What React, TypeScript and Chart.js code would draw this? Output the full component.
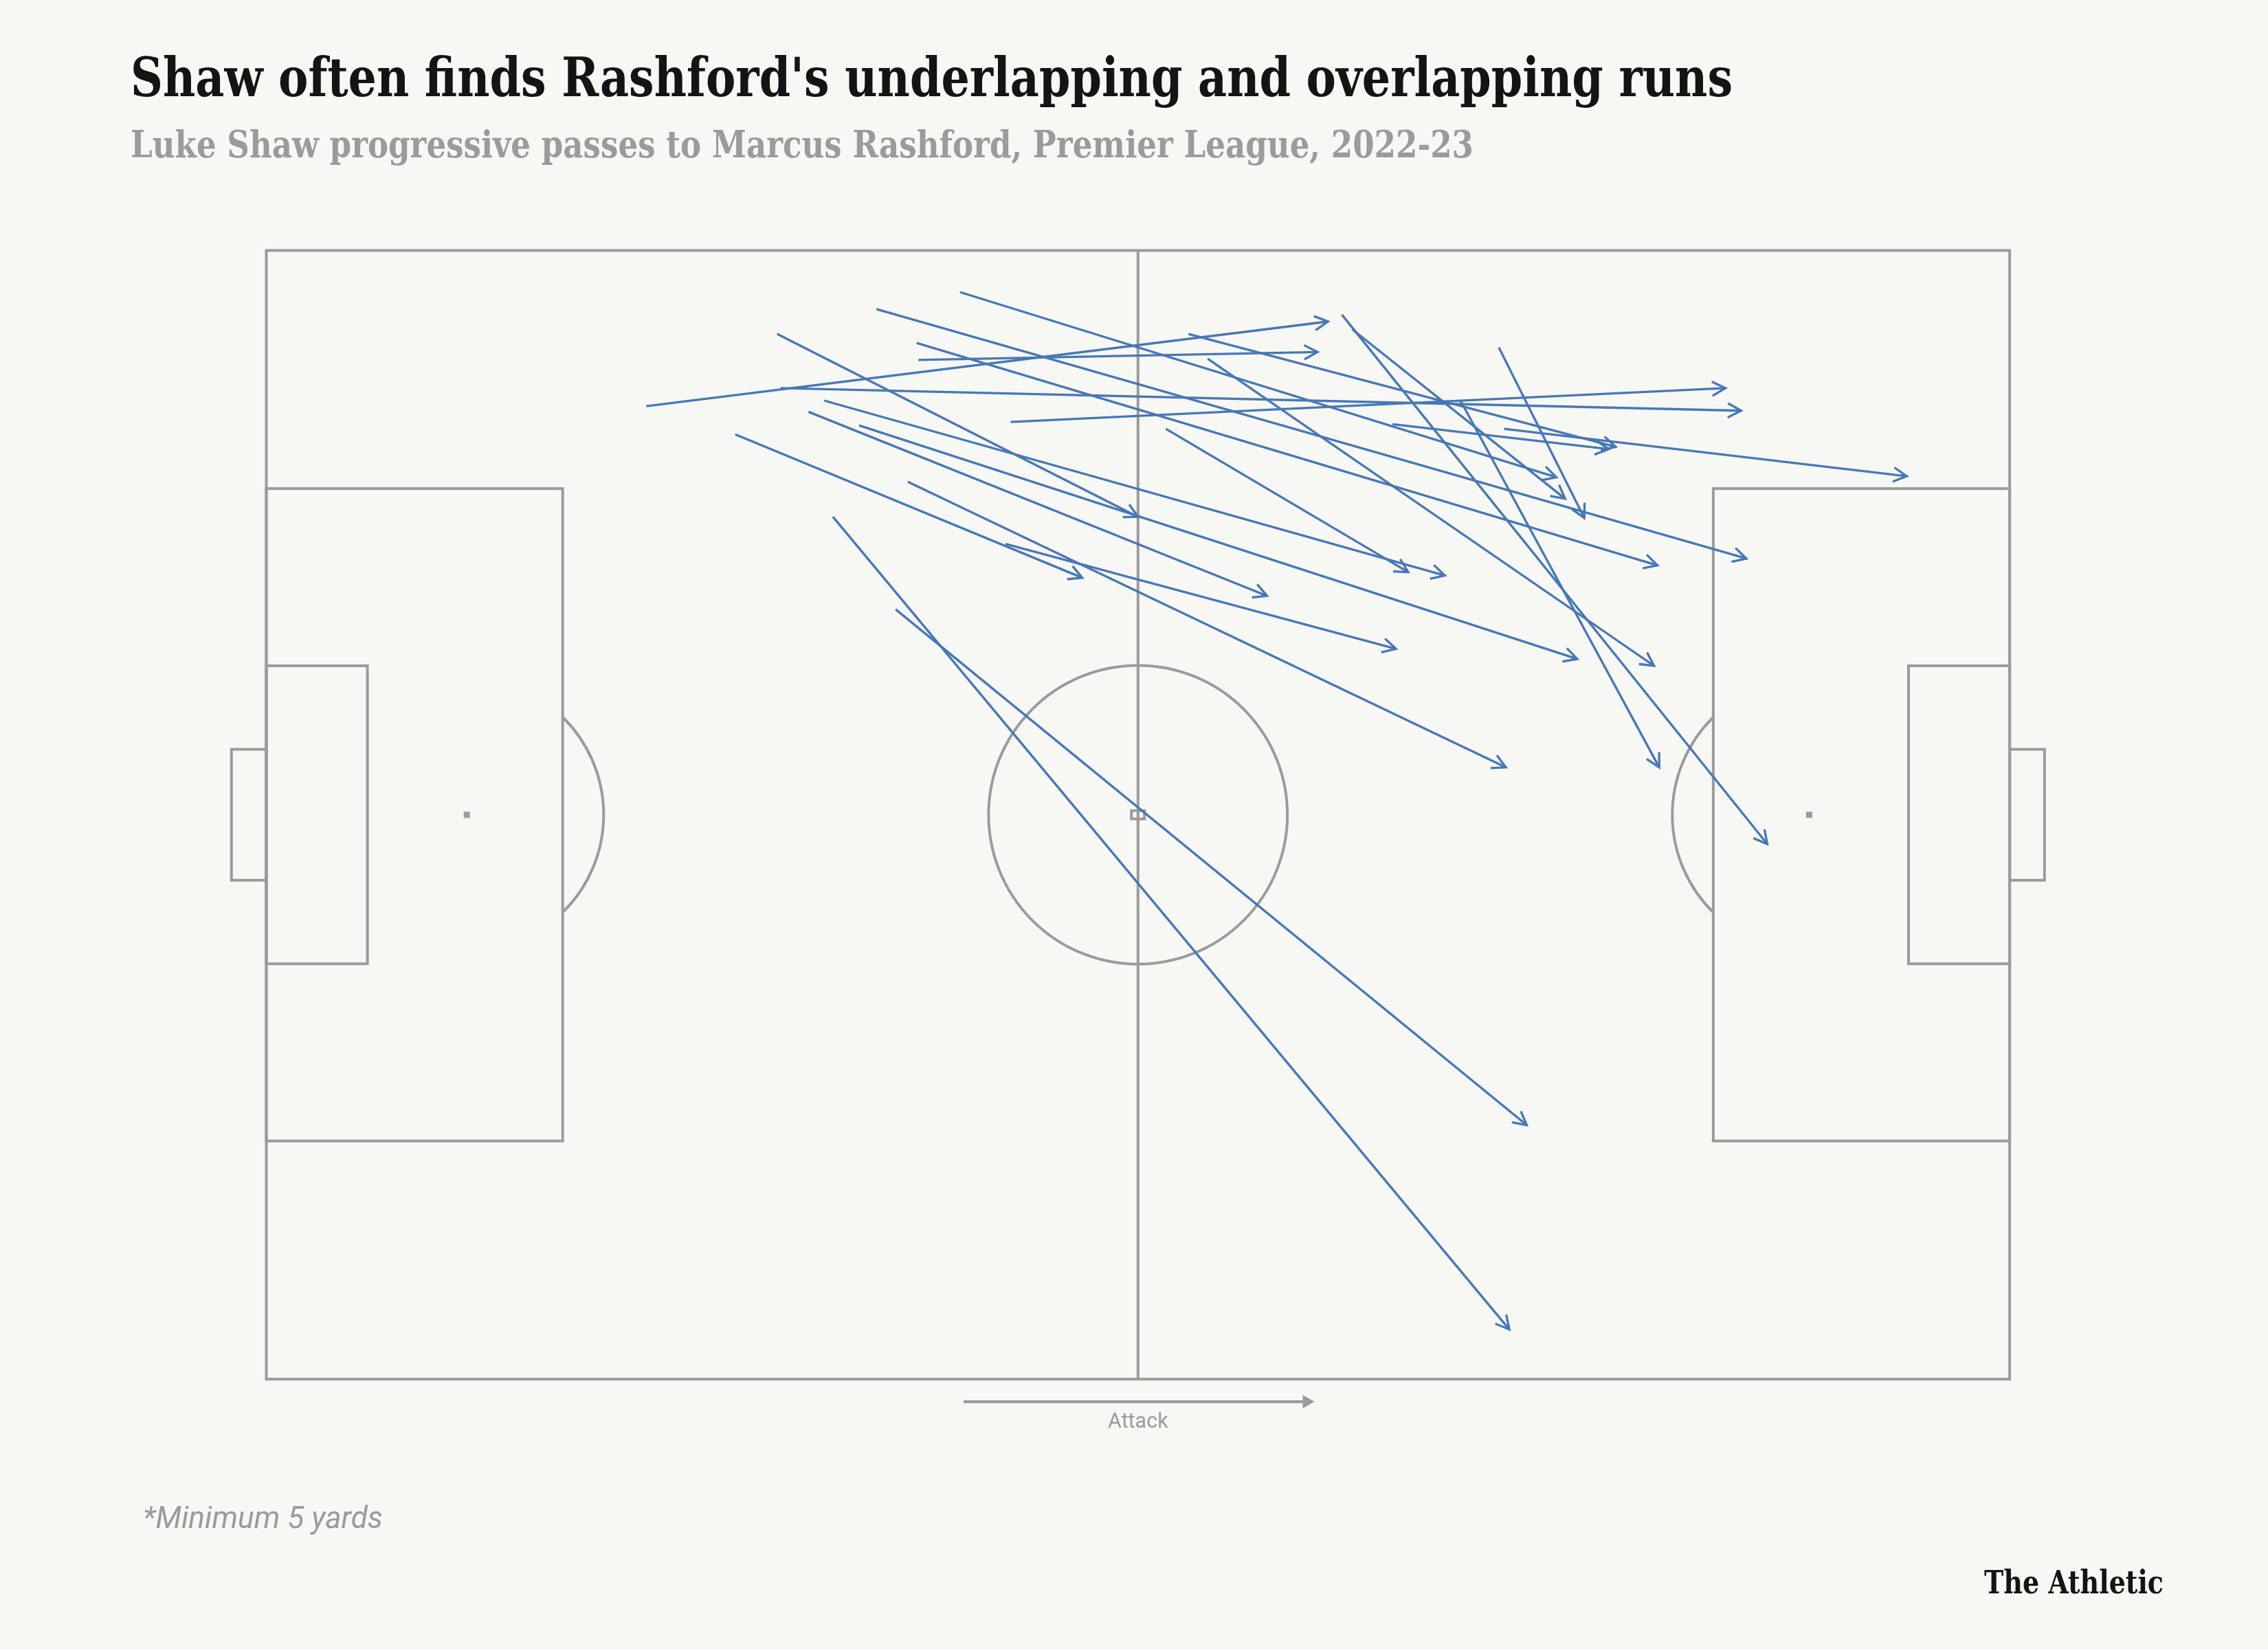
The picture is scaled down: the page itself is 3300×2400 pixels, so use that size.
import React, { useEffect, useLayoutEffect, useRef } from "react";
import { Chart, registerables } from "chart.js";

Chart.register(...registerables);

// ---- Data (Opta pitch coordinates, 0-100; x = attacking direction, y = 0 at bottom touchline) ----
const passStartX = [21.8, 37.4, 29.5, 42.7, 39.8, 35.0, 37.3, 29.3, 52.9, 64.6, 71.0, 54.0, 51.6, 32.0, 31.1, 34.0, 26.9, 36.8, 42.4, 32.5, 36.1, 70.7, 62.3, 68.5, 61.7];
const passStartY = [86.2, 90.3, 87.8, 84.8, 96.3, 94.8, 91.8, 92.6, 92.6, 84.6, 84.2, 90.4, 84.2, 86.7, 85.7, 84.5, 83.7, 79.5, 74.0, 76.4, 68.2, 91.4, 93.0, 86.7, 94.3];
const passEndX = [60.9, 60.3, 84.6, 83.7, 74.0, 84.9, 79.8, 50.0, 77.4, 77.0, 94.1, 79.6, 65.5, 67.6, 57.4, 75.2, 46.8, 71.1, 64.8, 71.3, 72.3, 75.6, 74.5, 79.9, 86.1];
const passEndY = [93.7, 91.0, 85.8, 87.8, 79.9, 72.7, 72.1, 76.4, 82.6, 82.4, 80.0, 63.2, 71.5, 71.2, 69.4, 63.8, 71.0, 54.2, 64.7, 4.4, 22.5, 76.3, 78.0, 54.2, 47.4];

// Attack direction arrow (data units)
const attackArrowX = [40, 60];
const attackArrowY = [-2, -2];

// ---- Text ----
const TITLE = "Shaw often finds Rashford's underlapping and overlapping runs";
const SUBTITLE = "Luke Shaw progressive passes to Marcus Rashford, Premier League, 2022-23";
const FOOTNOTE = "*Minimum 5 yards";
const LOGO = "The Athletic";
const ATTACK = "Attack";

// ---- Pitch markings (Opta units) ----
const PEN_BOX_DEPTH = 17;
const PEN_BOX_Y = [21.1, 78.9];
const SIX_BOX_DEPTH = 5.8;
const SIX_BOX_Y = [36.8, 63.2];
const GOAL_DEPTH = 2.0;
const GOAL_Y = [44.2, 55.8];
const PEN_SPOT_X = 11.5;
const CIRCLE_RADIUS_X = 8.57;
const ARC_RADIUS_X = 7.85;

// ---- Styles ----
const BG = "#f7f7f3";
const LINE = "#9b9b9b";
const BLUE = "#4677b8";
const W = 3300;
const H = 2400;
const PITCH = { left: 387.5, top: 364.5, right: 2924.1, bottom: 2007.2 };

const pitchPlugin = {
  id: "pitchPlugin",
  beforeDatasetsDraw(chart: any) {
    const { ctx } = chart;
    const xs = chart.scales.x;
    const ys = chart.scales.y;
    const px = (v: number) => xs.getPixelForValue(v);
    const py = (v: number) => ys.getPixelForValue(v);
    ctx.save();
    ctx.strokeStyle = LINE;
    ctx.fillStyle = LINE;
    ctx.lineWidth = 4;
    ctx.lineJoin = "miter";
    ctx.lineCap = "butt";
    const rect = (x0: number, y0: number, x1: number, y1: number) => {
      const a = px(Math.min(x0, x1));
      const b = px(Math.max(x0, x1));
      const c = py(Math.max(y0, y1));
      const d = py(Math.min(y0, y1));
      ctx.strokeRect(a, c, b - a, d - c);
    };
    // outline
    rect(0, 0, 100, 100);
    // halfway
    ctx.beginPath();
    ctx.moveTo(px(50), py(0));
    ctx.lineTo(px(50), py(100));
    ctx.stroke();
    // boxes and goals
    rect(0, PEN_BOX_Y[0], PEN_BOX_DEPTH, PEN_BOX_Y[1]);
    rect(100 - PEN_BOX_DEPTH, PEN_BOX_Y[0], 100, PEN_BOX_Y[1]);
    rect(0, SIX_BOX_Y[0], SIX_BOX_DEPTH, SIX_BOX_Y[1]);
    rect(100 - SIX_BOX_DEPTH, SIX_BOX_Y[0], 100, SIX_BOX_Y[1]);
    rect(-GOAL_DEPTH, GOAL_Y[0], 0, GOAL_Y[1]);
    rect(100, GOAL_Y[0], 100 + GOAL_DEPTH, GOAL_Y[1]);
    // centre circle
    const cx = px(50);
    const cy = py(50);
    const rc = px(50 + CIRCLE_RADIUS_X) - px(50);
    ctx.beginPath();
    ctx.arc(cx, cy, rc, 0, Math.PI * 2);
    ctx.stroke();
    // centre spot (small hollow mark)
    ctx.lineWidth = 4;
    ctx.strokeRect(cx - 9.5, cy - 6, 19, 12);
    // penalty spots
    const spot = (xv: number) => {
      const sx = px(xv);
      ctx.beginPath();
      ctx.rect(sx - 4.5, cy - 4.5, 9, 9);
      ctx.fill();
    };
    spot(PEN_SPOT_X);
    spot(100 - PEN_SPOT_X);
    // penalty arcs
    ctx.lineWidth = 4;
    const ra = px(ARC_RADIUS_X) - px(0);
    const lsx = px(PEN_SPOT_X);
    const th = Math.acos((px(PEN_BOX_DEPTH) - lsx) / ra);
    ctx.beginPath();
    ctx.arc(lsx, cy, ra, -th, th);
    ctx.stroke();
    const rsx = px(100 - PEN_SPOT_X);
    ctx.beginPath();
    ctx.arc(rsx, cy, ra, Math.PI - th, Math.PI + th);
    ctx.stroke();
    // attack arrow
    const ax0 = px(attackArrowX[0]);
    const ax1 = px(attackArrowX[1]);
    const ay = py(attackArrowY[0]);
    ctx.lineWidth = 4.3;
    ctx.beginPath();
    ctx.moveTo(ax0, ay);
    ctx.lineTo(ax1 - 14, ay);
    ctx.stroke();
    ctx.beginPath();
    ctx.moveTo(ax1 + 3, ay);
    ctx.lineTo(ax1 - 14, ay - 9.7);
    ctx.lineTo(ax1 - 14, ay + 9.7);
    ctx.closePath();
    ctx.fill();
    ctx.restore();
  },
  afterDatasetsDraw(chart: any) {
    const { ctx } = chart;
    const xs = chart.scales.x;
    const ys = chart.scales.y;
    ctx.save();
    ctx.strokeStyle = BLUE;
    ctx.lineWidth = 3.3;
    ctx.lineCap = "butt";
    ctx.lineJoin = "miter";
    const L = 22;
    const a = (28 * Math.PI) / 180;
    for (let i = 0; i < passStartX.length; i++) {
      const x0 = xs.getPixelForValue(passStartX[i]);
      const y0 = ys.getPixelForValue(passStartY[i]);
      const x1 = xs.getPixelForValue(passEndX[i]);
      const y1 = ys.getPixelForValue(passEndY[i]);
      const ang = Math.atan2(y1 - y0, x1 - x0);
      ctx.beginPath();
      ctx.moveTo(x1 - L * Math.cos(ang - a), y1 - L * Math.sin(ang - a));
      ctx.lineTo(x1, y1);
      ctx.lineTo(x1 - L * Math.cos(ang + a), y1 - L * Math.sin(ang + a));
      ctx.stroke();
    }
    ctx.restore();
  },
};

function FitText(props: { text: string; width: number; style: React.CSSProperties }) {
  const ref = useRef<HTMLSpanElement>(null);
  useLayoutEffect(() => {
    const el = ref.current;
    if (!el) return;
    const fit = () => {
      el.style.transform = "none";
      const w = el.getBoundingClientRect().width;
      if (w > 0) el.style.transform = `scaleX(${props.width / w})`;
    };
    fit();
    if ((document as any).fonts && (document as any).fonts.ready) {
      (document as any).fonts.ready.then(fit);
    }
  }, [props.text, props.width]);
  return (
    <span
      ref={ref}
      style={{
        position: "absolute",
        display: "inline-block",
        whiteSpace: "nowrap",
        transformOrigin: "0 0",
        lineHeight: 1,
        ...props.style,
      }}
    >
      {props.text}
    </span>
  );
}

export default function App() {
  const canvasRef = useRef<HTMLCanvasElement>(null);

  useEffect(() => {
    document.body.style.margin = "0";
    document.body.style.background = BG;
    const canvas = canvasRef.current;
    if (!canvas) return;
    const datasets = passStartX.map((_, i) => ({
      label: `pass ${i + 1}`,
      data: [
        { x: passStartX[i], y: passStartY[i] },
        { x: passEndX[i], y: passEndY[i] },
      ],
      showLine: true,
      borderColor: BLUE,
      backgroundColor: BLUE,
      borderWidth: 3.3,
      borderCapStyle: "butt" as const,
      pointRadius: 0,
      pointHoverRadius: 0,
      fill: false,
      tension: 0,
    }));
    const chart = new Chart(canvas, {
      type: "scatter",
      data: { datasets },
      options: {
        animation: false,
        responsive: false,
        devicePixelRatio: 1,
        events: [],
        layout: {
          padding: {
            left: PITCH.left,
            top: PITCH.top,
            right: W - PITCH.right,
            bottom: H - PITCH.bottom,
          },
        },
        scales: {
          x: { type: "linear", min: 0, max: 100, display: false },
          y: { type: "linear", min: 0, max: 100, display: false },
        },
        plugins: {
          legend: { display: false },
          tooltip: { enabled: false },
          title: { display: false },
        },
      },
      plugins: [pitchPlugin],
    });
    return () => chart.destroy();
  }, []);

  const slab = '"DejaVu Serif Condensed", "DejaVu Serif", serif';
  const sans = 'Roboto, "Noto Sans", sans-serif';

  return (
    <div style={{ position: "relative", width: W, height: H, background: BG, overflow: "hidden" }}>
      <canvas ref={canvasRef} width={W} height={H} style={{ position: "absolute", left: 0, top: 0, width: W, height: H }} />
      <FitText
        text={TITLE}
        width={2331}
        style={{ left: 190, top: 74, fontFamily: slab, fontWeight: 900, fontSize: 78, color: "#141414", fontStretch: "condensed" }}
      />
      <FitText
        text={SUBTITLE}
        width={1954}
        style={{ left: 190, top: 182, fontFamily: slab, fontWeight: 900, fontSize: 55, color: "#9b9b9b", fontStretch: "condensed" }}
      />
      <FitText
        text={FOOTNOTE}
        width={349}
        style={{ left: 208, top: 2187, fontFamily: sans, fontStyle: "italic", fontSize: 44, color: "#9b9b9b" }}
      />
      <FitText
        text={LOGO}
        width={261}
        style={{ left: 2887, top: 2279, fontFamily: slab, fontWeight: 900, fontSize: 47, color: "#141414", fontStretch: "condensed" }}
      />
      <div
        style={{
          position: "absolute",
          left: 1555.8,
          width: 200,
          top: 2052.6,
          textAlign: "center",
          fontFamily: sans,
          fontSize: 30.5,
          lineHeight: 1,
          color: "#9b9b9b",
          whiteSpace: "nowrap",
        }}
      >
        {ATTACK}
      </div>
    </div>
  );
}
